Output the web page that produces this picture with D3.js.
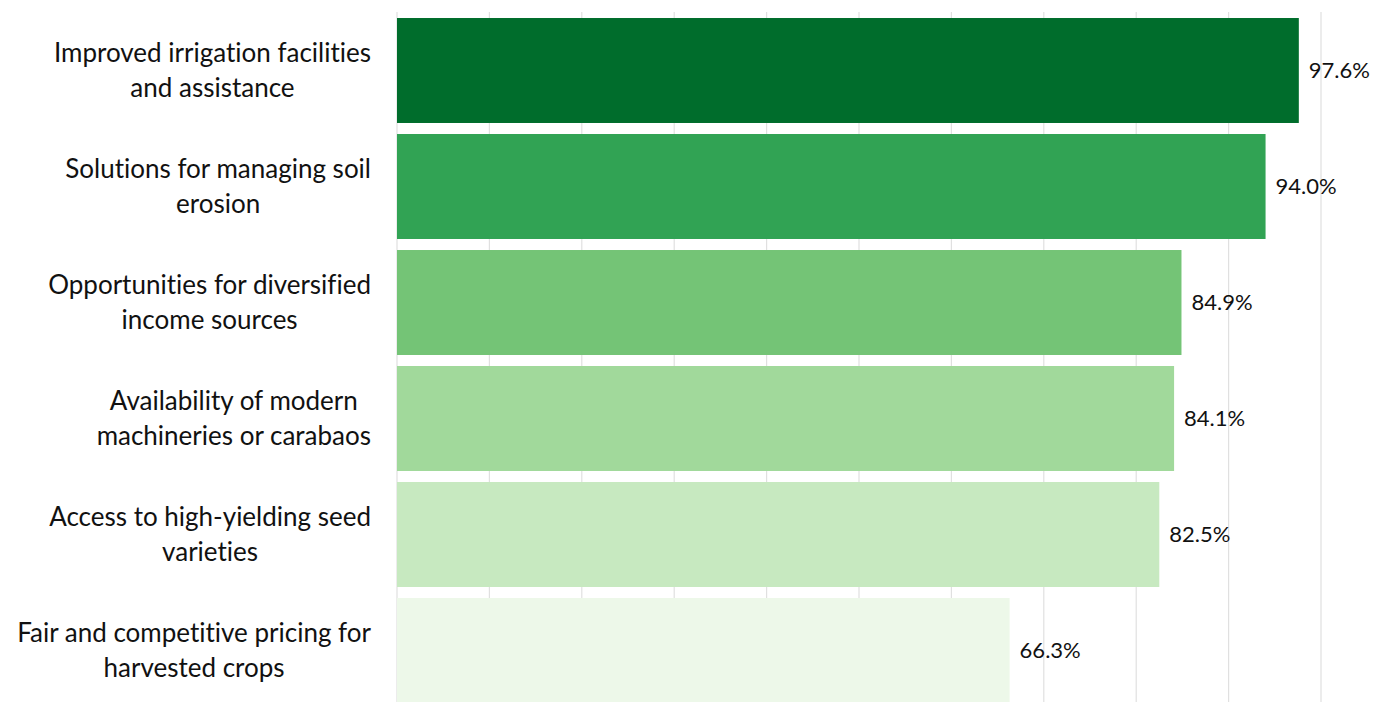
<!DOCTYPE html>
<html>
<head>
<meta charset="utf-8">
<script src="https://cdn.jsdelivr.net/npm/d3@7"></script>
<style>
  html, body { margin: 0; padding: 0; background: #fff; }
  svg { display: block; }
  text { font-family: Lato, "Noto Sans", sans-serif; fill: #111; font-variant-ligatures: none; }
</style>
</head>
<body>
<svg id="chart" width="1373" height="702"></svg>
<script>
const categories = [
  ["Improved irrigation facilities", "and assistance"],
  ["Solutions for managing soil", "erosion"],
  ["Opportunities for diversified", "income sources"],
  ["Availability of modern", "machineries or carabaos"],
  ["Access to high-yielding seed", "varieties"],
  ["Fair and competitive pricing for", "harvested crops"]
];
const values = [97.6, 94.0, 84.9, 84.1, 82.5, 66.3];
const colors = ["#006d2c", "#31a354", "#74c476", "#a1d99b", "#c7e9c0", "#edf8e9"];
const xTicks = [0, 10, 20, 30, 40, 50, 60, 70, 80, 90, 100];

(function () {
const svg = d3.select("#chart");
const mLeft = 397, mRight = 1321, mTop = 12.5, mBottom = 708.5;

const x = d3.scaleLinear().domain([0, 100]).range([mLeft, mRight]);
const y = d3.scaleBand().domain(d3.range(categories.length)).range([mTop, mBottom])
  .paddingInner(0.095).paddingOuter(0.0475);

// gridlines
svg.append("g").selectAll("line").data(xTicks).join("line")
  .attr("x1", d => x(d)).attr("x2", d => x(d))
  .attr("y1", 12).attr("y2", 702)
  .attr("stroke", "#e0e0e0").attr("stroke-width", 1.2);

// bars
svg.append("g").selectAll("rect").data(values).join("rect")
  .attr("x", x(0)).attr("y", (d, i) => y(i))
  .attr("width", d => x(d) - x(0)).attr("height", y.bandwidth())
  .attr("fill", (d, i) => colors[i]);

// value labels
svg.append("g").selectAll("text").data(values).join("text")
  .attr("x", d => x(d) + 10).attr("y", (d, i) => y(i) + y.bandwidth() / 2)
  .attr("dy", "0.35em").attr("font-size", 22)
  .text(d => d.toFixed(1) + "%");

// category labels: block right-aligned at 371, lines centered within block
const lineH = 35;
const labelG = svg.append("g");
categories.forEach((lines, i) => {
  const cy = y(i) + y.bandwidth() / 2;
  const g = labelG.append("g");
  const texts = lines.map((ln, j) => g.append("text")
    .attr("font-size", 26)
    .attr("text-anchor", "middle")
    .attr("y", cy + (j - (lines.length - 1) / 2) * lineH)
    .attr("dy", "0.35em")
    .text(ln));
  const maxW = d3.max(texts, t => t.node().getComputedTextLength());
  const cx = 371 - maxW / 2;
  texts.forEach(t => t.attr("x", cx));
});
})();
</script>
</body>
</html>
